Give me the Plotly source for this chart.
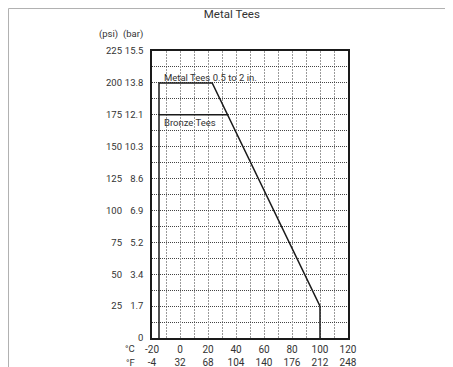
import plotly.graph_objects as go

# pressure / temperature rating curves
metal_tees_c = [-15, -15, 23, 100, 100]
metal_tees_psi = [0, 200, 200, 25, 0]
bronze_tees_c = [-15, 34]
bronze_tees_psi = [175, 175]

# axis labels
temp_c = [-20, 0, 20, 40, 60, 80, 100, 120]
temp_f = ["-4", "32", "68", "104", "140", "176", "212", "248"]
psi_ticks = [0, 25, 50, 75, 100, 125, 150, 175, 200, 225]
psi_text = ["", "25", "50", "75", "100", "125", "150", "175", "200", "225"]
bar_text = ["0", "1.7", "3.4", "5.2", "6.9", "8.6", "10.3", "12.1", "13.8", "15.5"]

FONT = "Roboto"
TXT = "#333"
LINE = "#1a1a1a"

fig = go.Figure()
fig.add_trace(go.Scatter(x=metal_tees_c, y=metal_tees_psi, mode="lines",
                         line=dict(color=LINE, width=1.5), showlegend=False,
                         hoverinfo="skip"))
fig.add_trace(go.Scatter(x=bronze_tees_c, y=bronze_tees_psi, mode="lines",
                         line=dict(color=LINE, width=1.5), showlegend=False,
                         hoverinfo="skip"))
# invisible trace so the °F / psi label axes get drawn
fig.add_trace(go.Scatter(x=[temp_c[0], temp_c[-1]], y=[psi_ticks[0], psi_ticks[-1]],
                         xaxis="x2", yaxis="y2", mode="markers",
                         marker=dict(opacity=0), showlegend=False, hoverinfo="skip"))

fig.add_annotation(x=-13, y=204, text="Metal Tees 0.5 to 2 in.", showarrow=False,
                   xanchor="left", yanchor="middle", font=dict(size=9.5, color=TXT))
fig.add_annotation(x=-13, y=169, text="Bronze Tees", showarrow=False,
                   xanchor="left", yanchor="middle", font=dict(size=9.5, color=TXT))

# column headers and unit labels
for txt, x, y in [("(psi)", -0.163, 1.059), ("(bar)", -0.036, 1.059),
                  ("°C", -0.075, -0.038), ("°F", -0.075, -0.084)]:
    fig.add_annotation(x=x, y=y, xref="paper", yref="paper", text=txt,
                       showarrow=False, xanchor="right", yanchor="middle",
                       font=dict(size=9.5, color=TXT))

# light outer frame
fig.add_shape(type="rect", xref="paper", yref="paper", x0=-0.732, x1=2, y0=-0.3, y1=1.148,
              line=dict(color="#b0b0b0", width=1))

fig.update_layout(
    width=445, height=359,
    margin=dict(l=144, r=105, t=43, b=29, autoexpand=False),
    paper_bgcolor="white", plot_bgcolor="white",
    font=dict(family=FONT, size=10, color=TXT),
    title=dict(text="Metal Tees", x=0.503, xref="container", xanchor="center",
               y=0.983, yanchor="middle", font=dict(size=11.5, color=TXT)),
    xaxis=dict(range=[-20, 120], tickmode="array", tickvals=temp_c,
               ticktext=[str(v) for v in temp_c], ticks="", ticklabelstandoff=1,
               showline=True, mirror=True, linecolor=LINE, linewidth=1.5,
               showgrid=True, gridcolor="#9a9a9a", griddash="2px,1px", gridwidth=1,
               minor=dict(tickvals=list(range(-10, 120, 20)), showgrid=True,
                          gridcolor="#9a9a9a", griddash="2px,1px", gridwidth=1),
               zeroline=False, tickfont=dict(size=10, color=TXT)),
    xaxis2=dict(range=[-20, 120], overlaying="x", side="bottom", anchor="y",
                tickmode="array", tickvals=temp_c, ticktext=temp_f, ticks="",
                ticklabelstandoff=17, showgrid=False, showline=False, zeroline=False,
                tickfont=dict(size=10, color=TXT)),
    yaxis=dict(range=[0, 225], tickmode="array", tickvals=psi_ticks, ticktext=bar_text,
               ticks="", ticklabelstandoff=5,
               showline=True, mirror=True, linecolor=LINE, linewidth=1.5,
               showgrid=True, gridcolor="#444", griddash="1px,1px", gridwidth=1,
               minor=dict(tickvals=[12.5 + 25 * i for i in range(9)], showgrid=True,
                          gridcolor="#444", griddash="1px,1px", gridwidth=1),
               zeroline=False, tickfont=dict(size=9.5, color=TXT)),
    yaxis2=dict(range=[0, 225], overlaying="y", side="left", anchor="x",
                tickmode="array", tickvals=psi_ticks, ticktext=psi_text, ticks="",
                ticklabelstandoff=29, showgrid=False, showline=False, zeroline=False,
                tickfont=dict(size=9.5, color=TXT)),
)

fig.write_html("out.html")
